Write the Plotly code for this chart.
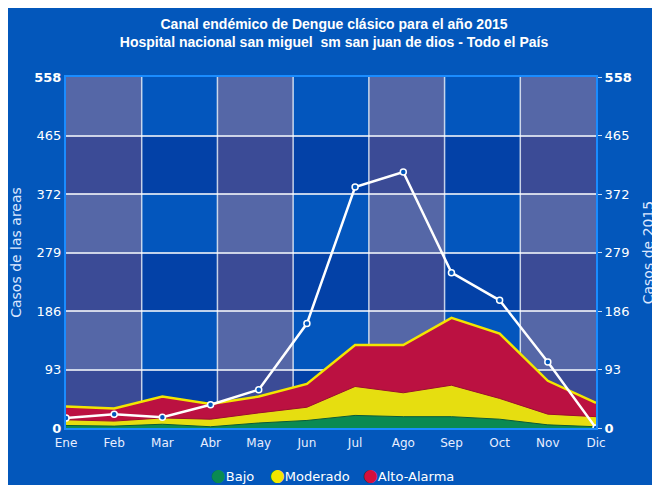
import plotly.graph_objects as go

months = ["Ene", "Feb", "Mar", "Abr", "May", "Jun", "Jul", "Ago", "Sep", "Oct", "Nov", "Dic"]
bajo = [4, 3, 6, 2, 8, 12, 20, 18, 18, 14, 5, 2]
moderado = [13, 11, 16, 14, 24, 33, 66, 56, 68, 47, 22, 18]
alto = [34, 31, 50, 38, 50, 70, 132, 132, 175, 150, 75, 40]
casos_2015 = [16, 22, 17, 37, 61, 166, 383, 407, 247, 203, 105, 0]
y_ticks = [0, 93, 186, 279, 372, 465, 558]
y_ticktext = ["<b>0</b>", "93", "186", "279", "372", "465", "<b>558</b>"]
legend_names = ["Bajo", "Moderado", "Alto-Alarma"]
legend_colors = ["#0a8a52", "#f2e600", "#d4103c"]

BG = "#0357bb"
fig = go.Figure()

fig.add_trace(go.Scatter(x=months, y=alto, mode="lines", fill="tozeroy", name="Alto-Alarma",
                         fillcolor="#bb1141", line=dict(color="#f2e600", width=2.5),
                         showlegend=False))
fig.add_trace(go.Scatter(x=months, y=moderado, mode="lines", fill="tozeroy", name="Moderado",
                         fillcolor="#e6de10", line=dict(color="#9a1030", width=1),
                         showlegend=False))
fig.add_trace(go.Scatter(x=months, y=bajo, mode="lines", fill="tozeroy", name="Bajo",
                         fillcolor="#0a8a52", line=dict(color="#0a5a3a", width=1),
                         showlegend=False))
fig.add_trace(go.Scatter(x=months, y=casos_2015, mode="lines+markers", yaxis="y2",
                         name="Casos de 2015",
                         line=dict(color="white", width=2.5),
                         marker=dict(size=6, color=BG, line=dict(color="white", width=1.5)),
                         showlegend=False))

shapes = []
gray = ["#3b4b96", "#5567a7"]
blue = ["#0341a7", "#0356bd"]
for c in range(7):
    for r in range(6):
        pal = gray if c % 2 == 0 else blue
        shapes.append(dict(type="rect", xref="x domain", yref="y domain",
                           x0=c / 7, x1=(c + 1) / 7, y0=r / 6, y1=(r + 1) / 6,
                           fillcolor=pal[r % 2], line=dict(width=0), layer="below"))
for c in range(1, 7):
    shapes.append(dict(type="line", xref="x domain", yref="y domain",
                       x0=c / 7, x1=c / 7, y0=0, y1=1,
                       line=dict(color="rgba(255,255,255,0.75)", width=1.5), layer="below"))

annotations = []
leg_x = [0.269, 0.381, 0.556]
for name, col, lx in zip(legend_names, legend_colors, leg_x):
    annotations.append(dict(
        xref="paper", yref="paper", x=lx, y=-0.134, xanchor="left", yanchor="middle",
        showarrow=False,
        text=f'<span style="color:{col};font-size:17px">●</span>{name}',
        font=dict(family="DejaVu Sans", size=13, color="white")))

fig.update_layout(
    width=652, height=477,
    margin=dict(l=58, r=64, t=69, b=57),
    paper_bgcolor=BG, plot_bgcolor=BG,
    shapes=shapes, annotations=annotations,
    showlegend=False,
    title=dict(text="Canal endémico de Dengue clásico para el año 2015<br>Hospital nacional san miguel  sm san juan de dios - Todo el País",
               x=0.5, xanchor="center", y=0.957, yanchor="middle",
               font=dict(family="Liberation Sans", size=14, color="white", weight="bold")),
    font=dict(family="DejaVu Sans", color="#e8eeff"),
    xaxis=dict(type="category", range=[0, 11], showgrid=False, zeroline=False,
               showline=True, linecolor="#1a8cff", linewidth=2, mirror=True,
               ticks="outside", ticklen=3, tickcolor="rgba(0,0,0,0)",
               tickfont=dict(size=12, color="#e8eeff"), automargin=False),
    yaxis=dict(range=[0, 558], tickvals=y_ticks, ticktext=y_ticktext,
               showgrid=True, gridcolor="rgba(255,255,255,0.75)", gridwidth=1.5,
               zeroline=False, showline=True, linecolor="#1a8cff", linewidth=2,
               tickfont=dict(size=13, color="white"), ticks="", automargin=False,
               title=dict(text="Casos de las areas", font=dict(size=14, color="#dde8ff"), standoff=18)),
    yaxis2=dict(range=[0, 558], tickvals=y_ticks, ticktext=y_ticktext, overlaying="y",
                side="right", showgrid=False, zeroline=False, showline=True,
                linecolor="#1a8cff", linewidth=2, ticks="outside", ticklen=4,
                tickcolor="rgba(255,255,255,0.8)", automargin=False,
                tickfont=dict(size=13, color="white"),
                title=dict(text="Casos de 2015", font=dict(size=14, color="#dde8ff"), standoff=12)),
)

fig.write_html("out.html")
